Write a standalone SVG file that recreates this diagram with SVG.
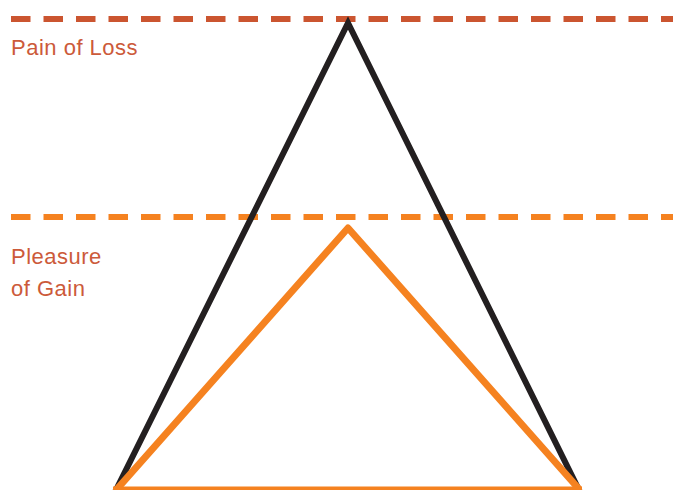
<svg xmlns="http://www.w3.org/2000/svg" width="673" height="490" viewBox="0 0 673 490">
  <style>
    .lbl { font-family: "Liberation Sans", Arial, sans-serif; font-size: 22px; letter-spacing: 0.5px; fill: #cc5a3a; }
    .dash { fill: none; stroke-width: 6; stroke-dasharray: 19.5 13; }
    .gain { fill: none; stroke: #f58220; stroke-width: 7; }
  </style>
  <rect width="673" height="490" fill="#ffffff"/>
  <g id="connectors">
    <line id="loss-line" class="dash" x1="11" y1="19" x2="673" y2="19" stroke="#cb5530"/>
    <line id="gain-line" class="dash" x1="11" y1="217" x2="673" y2="217" stroke="#f58220"/>
  </g>
  <g id="loss-triangle">
    <polyline points="115,492 348,23 580,492" fill="none" stroke="#231f20" stroke-width="6" stroke-linejoin="miter"/>
  </g>
  <g id="gain-triangle">
    <polyline class="gain" points="117,489 348,228 579,489" stroke-linejoin="round"/>
    <line class="gain" x1="113" y1="490" x2="582" y2="490"/>
  </g>
  <g id="label-loss">
    <text class="lbl" x="11" y="55">Pain of Loss</text>
  </g>
  <g id="label-gain">
    <text class="lbl" x="11" y="264">Pleasure</text>
    <text class="lbl" x="11" y="295.5">of Gain</text>
  </g>
</svg>
